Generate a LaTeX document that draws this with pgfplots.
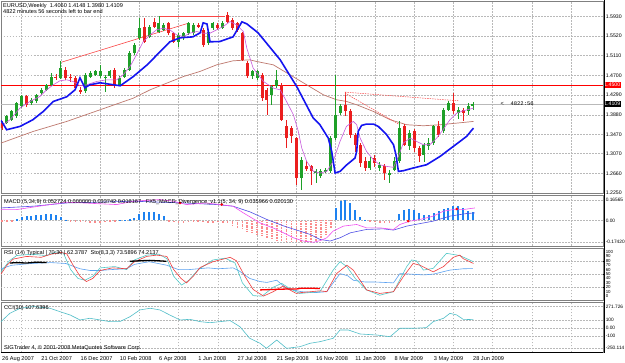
\documentclass[border=0pt]{standalone}
\usepackage{pgfplots}
\pgfplotsset{compat=1.18}
\usepackage{pgfplotstable}
\usepackage{fontspec}
\setmainfont{Liberation Sans}
\newfontfamily\monof{Liberation Mono}
\newcommand\tf{\fontsize{5.6}{6.3}\selectfont}
\newcommand\lf{\fontsize{5.2}{6}\selectfont}
\newcommand\smallf{\fontsize{4.4}{5}\selectfont}
\definecolor{cgreen}{RGB}{30,160,40}
\definecolor{cred}{RGB}{235,30,30}
\definecolor{mablue}{RGB}{20,20,240}
\definecolor{mamag}{RGB}{200,90,220}
\definecolor{mabrown}{RGB}{190,120,110}
\definecolor{trend}{RGB}{250,70,70}
\definecolor{histblue}{RGB}{30,130,240}
\definecolor{histpink}{RGB}{250,140,140}
\definecolor{gridc}{RGB}{185,185,185}
\definecolor{sepc}{RGB}{128,128,128}
\definecolor{rsiblue}{RGB}{90,160,240}
\definecolor{stored}{RGB}{240,60,60}
\definecolor{stocyan}{RGB}{80,200,200}
\definecolor{ccic}{RGB}{80,190,200}
\definecolor{macdmag}{RGB}{240,80,240}
\definecolor{macdblue}{RGB}{80,80,230}

\pgfplotstableread{
i o h l c
1 1.3706 1.3870 1.3680 1.3845
2 1.3776 1.3980 1.3750 1.3949
3 1.3845 1.4150 1.3820 1.4123
4 1.4053 1.4300 1.4030 1.4261
6 1.4123 1.4230 1.4090 1.4192
7 1.4157 1.4320 1.4120 1.4296
8 1.4331 1.4430 1.4300 1.4400
9 1.4400 1.4530 1.4380 1.4504
10 1.4504 1.4750 1.4480 1.4677
12 1.4643 1.4990 1.4620 1.4851
17 1.4365 1.4740 1.4330 1.4712
18 1.4677 1.4790 1.4640 1.4747
19 1.4712 1.4820 1.4680 1.4782
20 1.4677 1.4920 1.4650 1.4782
21 1.4643 1.4710 1.4360 1.4677
22 1.4677 1.4820 1.4640 1.4782
24 1.4504 1.4680 1.4480 1.4643
25 1.4677 1.4850 1.4650 1.4816
26 1.4816 1.5200 1.4790 1.5163
27 1.5163 1.5380 1.5130 1.5337
28 1.5475 1.5892 1.5440 1.5683
30 1.5510 1.5760 1.5480 1.5718
32 1.5614 1.5940 1.5590 1.5787
33 1.5649 1.5800 1.5620 1.5753
36 1.5406 1.5580 1.5300 1.5545
37 1.5475 1.5610 1.5440 1.5579
38 1.5579 1.5820 1.5540 1.5787
39 1.5579 1.5790 1.5550 1.5753
42 1.5370 1.5650 1.5340 1.5614
43 1.5683 1.5820 1.5650 1.5787
45 1.5683 1.5830 1.5660 1.5787
51 1.4677 1.4820 1.4620 1.4782
52 1.4643 1.4810 1.4600 1.4782
55 1.4296 1.4500 1.4088 1.4469
56 1.4469 1.4816 1.4430 1.4608
61 1.2562 1.3000 1.2319 1.2943
64 1.2666 1.2740 1.2450 1.2700
65 1.2597 1.2740 1.2560 1.2700
66 1.2700 1.2770 1.2670 1.2735
67 1.2700 1.3430 1.2670 1.3394
68 1.3394 1.4712 1.3360 1.3880
69 1.3914 1.4100 1.3880 1.4053
75 1.2770 1.3000 1.2720 1.2909
77 1.2770 1.2900 1.2700 1.2839
79 1.2631 1.2730 1.2457 1.2666
80 1.2735 1.3000 1.2700 1.2909
81 1.2909 1.3740 1.2880 1.3602
83 1.3221 1.3560 1.3150 1.3498
86 1.3047 1.3300 1.2900 1.3255
87 1.3221 1.3400 1.3150 1.3290
88 1.3290 1.3670 1.3250 1.3637
90 1.3533 1.4030 1.3500 1.3984
91 1.3984 1.4160 1.3950 1.4123
93 1.3914 1.4050 1.3800 1.3984
95 1.3949 1.4120 1.3880 1.4053
96 1.4060 1.4148 1.3980 1.4109
}\greentab

\pgfplotstableread{
i o h l c
0 1.3706 1.3740 1.3560 1.3602
5 1.4261 1.4290 1.4050 1.4088
11 1.4677 1.4720 1.4600 1.4643
13 1.4816 1.4880 1.4600 1.4643
14 1.4677 1.4720 1.4560 1.4643
15 1.4643 1.4680 1.4400 1.4435
16 1.4400 1.4450 1.4320 1.4365
23 1.4816 1.4850 1.4440 1.4469
29 1.5718 1.5892 1.5380 1.5406
31 1.5822 1.5892 1.5690 1.5718
34 1.5787 1.5820 1.5540 1.5579
35 1.5579 1.5610 1.5380 1.5406
40 1.5753 1.5790 1.5680 1.5718
41 1.5649 1.5690 1.5300 1.5337
44 1.5753 1.5790 1.5650 1.5683
46 1.5961 1.6030 1.5790 1.5822
47 1.5857 1.5890 1.5650 1.5683
48 1.5787 1.5820 1.5610 1.5649
49 1.5579 1.5610 1.4990 1.5024
50 1.4955 1.4990 1.4640 1.4677
53 1.4712 1.4750 1.4157 1.4227
54 1.4400 1.4430 1.3880 1.4192
57 1.4504 1.4540 1.3740 1.3776
58 1.3637 1.3776 1.3190 1.3394
59 1.3602 1.3650 1.3300 1.3429
60 1.3394 1.3420 1.2423 1.2562
62 1.2805 1.2909 1.2700 1.2760
63 1.2805 1.2840 1.2423 1.2700
70 1.4088 1.4296 1.3845 1.3949
71 1.3949 1.4000 1.3400 1.3464
72 1.3464 1.3500 1.3100 1.3255
73 1.3255 1.3300 1.2800 1.2870
74 1.2909 1.3000 1.2700 1.2770
76 1.2978 1.3050 1.2800 1.2874
78 1.2805 1.2850 1.2520 1.2666
82 1.3637 1.3680 1.3220 1.3255
84 1.3533 1.3580 1.3100 1.3186
85 1.3186 1.3220 1.2900 1.3013
89 1.3637 1.3740 1.3420 1.3464
92 1.4123 1.4331 1.3900 1.3949
94 1.3984 1.4020 1.3750 1.3914
}\redtab

\pgfplotstableread{
i v
3 0.011
4 0.027
5 0.038
6 0.038
7 0.043
8 0.046
9 0.051
10 0.054
11 0.048
12 0.027
13 0.008
24 0.004
25 0.006
26 0.010
27 0.022
28 0.056
29 0.070
30 0.072
31 0.070
32 0.056
33 0.034
68 0.100
69 0.155
70 0.166
71 0.140
72 0.083
73 0.030
74 0.008
81 0.056
82 0.083
83 0.093
84 0.083
85 0.061
86 0.048
87 0.048
88 0.061
89 0.075
90 0.093
91 0.101
92 0.115
93 0.120
94 0.100
95 0.075
96 0.067
}\histpos

\pgfplotstableread{
i v
0 -0.004
1 -0.003
2 -0.002
14 -0.003
15 -0.008
16 -0.012
17 -0.016
18 -0.020
19 -0.020
20 -0.018
21 -0.015
22 -0.012
23 -0.008
34 -0.008
35 -0.015
36 -0.020
37 -0.020
38 -0.015
39 -0.012
40 -0.010
41 -0.015
42 -0.020
43 -0.018
44 -0.015
45 -0.020
46 -0.025
47 -0.040
48 -0.055
49 -0.070
50 -0.085
51 -0.100
52 -0.110
53 -0.125
54 -0.140
55 -0.150
56 -0.160
57 -0.166
58 -0.172
59 -0.175
60 -0.178
61 -0.180
62 -0.180
63 -0.176
64 -0.165
65 -0.140
66 -0.110
67 -0.060
75 -0.010
76 -0.015
77 -0.020
78 -0.022
79 -0.020
80 -0.015
}\histneg

\pgfplotsset{
  panel/.style={
    scale only axis, width=602pt,
    xmin=-0.2, xmax=122.5,
    axis line style={draw=sepc, line width=0.9pt},
    xtick={4,12,...,116},
    xticklabels={},
    xmajorgrids, ymajorgrids,
    grid style={draw=gridc, dash pattern=on 1.5pt off 1.5pt, line width=0.45pt},
    ytick pos=right, yticklabel pos=right,
    xtick style={draw=none},
    ytick style={draw=black, line width=0.4pt},
    major tick length=2pt, tick align=outside,
    yticklabel style={font=\lf, anchor=west, inner sep=0.3pt, xshift=0.3pt},
    clip mode=individual,
    /pgf/number format/assume math mode=true,
  },
  ebar/.style={draw=none, mark=none, forget plot, error bars/.cd, y dir=both, y explicit, error mark=none,
    error bar style={#1}},
}

\begin{document}
\begin{tikzpicture}
\useasboundingbox (0,0) rectangle (625pt,-363pt);
\fill[white] (0,0) rectangle (625pt,-363pt);

% ---------------- main price panel
\begin{axis}[panel, at={(1pt,-1pt)}, anchor=north west, height=192pt,
  ymin=1.2250, ymax=1.6250,
  ytick={1.2250,1.2660,1.3070,1.3470,1.3880,1.4290,1.4700,1.5110,1.5520,1.5930},
  yticklabels={1.2250,1.2660,1.3070,1.3470,1.3880,1.4290,1.4700,1.5110,1.5520,1.5930}]
\addplot[gray!55, line width=0.5pt, forget plot] coordinates {(-0.2,1.4109) (122.5,1.4109)};
\addplot[red, line width=0.6pt, forget plot] coordinates {(-0.2,1.4500) (122.5,1.4500)};
% brown MA
\addplot[mabrown, line width=0.7pt] coordinates {
(-0.2,1.3290) (6.38,1.3533) (13.2,1.3741) (20.0,1.3984) (26.8,1.4227) (30.2,1.4400) (33.6,1.4539)
(37.0,1.4677) (40.35,1.4782) (43.75,1.4920) (47.1,1.5004) (50.5,1.5024) (51.9,1.4990) (55.3,1.4920)
(58.7,1.4712) (62.1,1.4504) (65.5,1.4296) (68.2,1.4192) (70.25,1.4157) (72.3,1.4088) (75.7,1.3949)
(79.1,1.3776) (82.5,1.3672) (85.9,1.3651) (89.3,1.3672) (92.7,1.3706) (96.1,1.3741)};
% trend lines
\addplot[trend, line width=0.6pt] coordinates {(12.16,1.4976) (37.97,1.5787)};
\addplot[trend, line width=0.6pt] coordinates {(32.2,1.5935) (45.5,1.5935)};
\addplot[trend, line width=0.5pt, dash pattern=on 1.5pt off 1pt] coordinates {(69.9,1.4351) (93.0,1.4171)};
\addplot[trend, line width=0.5pt, dash pattern=on 1.5pt off 1pt] coordinates {(69.9,1.4331) (81.1,1.3672)};
\addplot[trend, line width=0.5pt] coordinates {(69.9,1.4351) (69.9,1.4100)};
% candles: wicks and bodies
\addplot[ebar={draw=cgreen, line width=0.8pt}]
  table[x=i, y expr={(\thisrow{h}+\thisrow{l})/2}, y error expr={(\thisrow{h}-\thisrow{l})/2}] {\greentab};
\addplot[ebar={draw=cred, line width=0.8pt}]
  table[x=i, y expr={(\thisrow{h}+\thisrow{l})/2}, y error expr={(\thisrow{h}-\thisrow{l})/2}] {\redtab};
\addplot[ebar={draw=cgreen, line width=3pt}]
  table[x=i, y expr={(\thisrow{o}+\thisrow{c})/2}, y error expr={max(abs(\thisrow{c}-\thisrow{o})/2,0.0008)}] {\greentab};
\addplot[ebar={draw=cred, line width=3pt}]
  table[x=i, y expr={(\thisrow{o}+\thisrow{c})/2}, y error expr={max(abs(\thisrow{c}-\thisrow{o})/2,0.0008)}] {\redtab};
% magenta MA
\addplot[mamag, line width=0.6pt] coordinates {
(0.27,1.3672) (1.63,1.3776) (3.67,1.4019) (5.70,1.4157) (7.74,1.4261) (9.1,1.4400) (10.46,1.4504)
(11.8,1.4587) (13.2,1.4608) (14.5,1.4573) (15.9,1.4483) (17.25,1.4504) (19.3,1.4573) (21.3,1.4608)
(23.4,1.4608) (24.7,1.4712) (26.1,1.4886) (27.4,1.5128) (28.8,1.5406) (30.2,1.5545) (31.5,1.5649)
(32.9,1.5683) (34.2,1.5649) (35.6,1.5545) (37.0,1.5510) (38.3,1.5579) (39.7,1.5614) (41.0,1.5579)
(42.4,1.5579) (43.75,1.5649) (45.1,1.5718) (46.5,1.5822) (47.8,1.5753) (49.2,1.5614) (49.9,1.5267)
(51.2,1.4851) (53.3,1.4573) (55.3,1.4435) (56.7,1.4400) (58.0,1.4157) (59.4,1.3880) (60.4,1.3533)
(61.1,1.3186) (62.1,1.2909) (63.5,1.2700) (64.8,1.2666) (66.2,1.2700) (67.5,1.2909) (68.9,1.3325)
(70.2,1.3637) (71.6,1.3741) (72.3,1.3672) (73.0,1.3394) (74.3,1.3117) (75.7,1.2943) (77.0,1.2839)
(78.4,1.2805) (79.8,1.2784) (80.8,1.3013) (81.8,1.3290) (83.2,1.3394) (84.5,1.3325) (85.9,1.3255)
(87.2,1.3255) (88.6,1.3394) (89.9,1.3568) (91.3,1.3776) (92.7,1.3914) (94.0,1.3963) (95.4,1.3998)
(96.1,1.4019)};
% blue thick line
\addplot[mablue, line width=1.6pt] coordinates {
(-0.2,1.3760) (-0.07,1.3741) (0.95,1.3568) (3.67,1.3637) (6.3,1.3776) (8.42,1.3949) (10.46,1.4157)
(13.2,1.4255) (14.9,1.4400) (15.9,1.4650) (16.9,1.4442) (17.9,1.4504) (20.0,1.4546) (24.1,1.4484)
(26.7,1.4671) (29.6,1.4921) (32.2,1.5191) (34.2,1.5399) (36.3,1.5483) (38.9,1.5503) (40.4,1.5587)
(41.0,1.5795) (41.8,1.5770) (42.4,1.5400) (44.4,1.5406) (47.1,1.5503) (48.9,1.5816) (49.9,1.5774)
(52.2,1.5587) (56.7,1.5025) (60.1,1.4463) (63.4,1.3818) (64.8,1.3672) (66.5,1.3394) (67.2,1.3117)
(67.9,1.2666) (68.9,1.2700) (70.3,1.2839) (71.95,1.2978) (72.3,1.3117) (72.6,1.3533) (73.3,1.3658)
(74.3,1.3686) (75.7,1.3686) (76.7,1.3637) (78.4,1.3464) (79.8,1.3255) (80.3,1.3047) (80.8,1.2700)
(81.8,1.2714) (83.8,1.2770) (86.55,1.2839) (89.3,1.3013) (92.0,1.3221) (94.7,1.3429) (96.1,1.3602)};
% texts
\node[anchor=north west, font=\tf, inner sep=0pt, align=left] at ([xshift=2pt,yshift=-2pt]rel axis cs:0,1)
  {EURUSD,Weekly\ \ 1.4060 1.4148 1.3980 1.4109\\[-0.5pt]4822 minutes 56 seconds left to bar end};
\node[anchor=west, font=\monof\fontsize{5.5}{6}\selectfont, inner sep=0pt] at (axis cs:101.6,1.4109) {<\ \ 4822:56};
\node[anchor=west, fill=red, text=white, font=\lf, inner sep=0.6pt, minimum height=6.5pt] at ([xshift=0.5pt]axis cs:122.5,1.4500) {1.4500};
\node[anchor=west, fill=black, text=white, font=\lf, inner sep=0.6pt, minimum height=6.5pt] at ([xshift=0.5pt]axis cs:122.5,1.4109) {1.4109};
\end{axis}

% ---------------- MACD panel
\begin{axis}[panel, at={(1pt,-195pt)}, anchor=north west, height=51pt,
  ymin=-0.205, ymax=0.205,
  ytick={-0.1742,0,0.16565}, yticklabels={-0.17420,0.00,0.16565},
  yticklabel style={font=\fontsize{4.8}{5.5}\selectfont}]
\addplot[ebar={draw=histblue, line width=2pt}]
  table[x=i, y expr={\thisrow{v}/2}, y error expr={abs(\thisrow{v})/2}] {\histpos};
\addplot[ebar={draw=histpink, line width=1.6pt, dash pattern=on 0.8pt off 0.8pt}]
  table[x=i, y expr={\thisrow{v}/2}, y error expr={abs(\thisrow{v})/2}] {\histneg};
\addplot[macdblue, line width=0.6pt] coordinates {
(-0.2,0.101) (6.4,0.115) (13.2,0.141) (26.8,0.155) (37,0.141) (43.8,0.128) (47.1,0.115) (50.5,0.070)
(54,0.008) (57.5,-0.045) (60.7,-0.085) (62.8,-0.112) (64.8,-0.152) (66.9,-0.165) (68.9,-0.139)
(71.0,-0.099) (74.3,-0.072) (77.7,-0.067) (79.8,-0.077) (82.5,-0.045) (87.9,-0.005) (91.3,0.035)
(94.7,0.056) (96.4,0.061)};
\addplot[macdmag, line width=0.6pt] coordinates {
(-0.2,0.088) (3.0,0.088) (9.8,0.128) (13.2,0.147) (16.6,0.141) (23.4,0.128) (26.8,0.155) (32.2,0.168)
(34.9,0.155) (37.6,0.128) (41.7,0.141) (44.4,0.128) (47.1,0.115) (49.2,0.061) (52.6,-0.019) (56,-0.072)
(59.4,-0.139) (61.4,-0.165) (63.5,-0.175) (65,-0.160) (66.2,-0.139) (67.5,-0.085) (69.6,-0.045)
(72.3,-0.032) (74.3,-0.059) (77.0,-0.059) (79.8,-0.072) (81.1,-0.032) (83.2,-0.005) (85.2,0.008)
(87.9,0.035) (90.0,0.075) (92.0,0.088) (94.0,0.088) (96.4,0.101)};
\addplot[only marks, mark=*, mark size=1.1pt, red] coordinates {(36.3,0.141) (44.8,0.128) (82.8,-0.005) (92.7,0.093)};
\node[anchor=north west, font=\tf, inner sep=0pt] at ([xshift=3pt,yshift=-4pt]rel axis cs:0,1)
  {MACD (5,34,9) 0.052724 0.000000 0.033742 0.016167\ \ \ FX5\_MACD\_Divergence\_v1.1(5, 34, 9) 0.035966 0.020130};
\end{axis}

% ---------------- RSI / Stochastic panel
\begin{axis}[panel, at={(1pt,-248.5pt)}, anchor=north west, height=52pt,
  ymin=-10, ymax=108, ytick={0,10,...,100},
  yticklabel style={font=\smallf},
  ymajorgrids=false,
  extra y ticks={20,50,80}, extra y tick labels={},
  extra y tick style={grid=major, tick style={draw=none}}]
\addplot[rsiblue, line width=0.6pt] coordinates {
(-0.2,62) (2,70) (6,74) (10,76) (13,74) (15.9,62) (18,58) (20,58) (22,60) (25.4,62) (27,72) (30,78)
(33.6,70) (36,60) (38,60) (40,62) (42,64) (44,62) (47.1,64) (48.5,56) (50.5,40) (52.6,33) (54,31)
(56,36) (58,17) (61,10) (64,8) (66.2,10) (67.5,30) (68.9,51) (70.5,46) (71.6,36) (74,32) (76,32)
(79.8,30) (81.1,51) (83,50) (86,48) (88,50) (91.3,59) (94,62) (96,62.4)};
\addplot[stocyan, line width=0.6pt] coordinates {
(-0.2,55) (1.5,80) (3,92) (6,95) (9,92) (11,100) (12.5,98) (14,60) (15.5,40) (16.9,36) (18.5,45)
(20,64) (23,67) (25.4,60) (27,82) (29.5,93) (32,95) (33.6,85) (35,45) (36.6,25) (38,35) (40,60)
(43,82) (45.5,86) (47.5,75) (49,30) (51.2,1) (53,0) (55.3,20) (57,29) (58.5,18) (60.7,6) (64.8,10)
(67.5,59) (68.9,78) (70.3,67) (72,40) (74.3,14) (77.0,2) (79.8,10) (82.5,67) (83.5,82) (84.5,80)
(85.9,59) (87.9,63) (90.6,97) (93.3,92) (96.1,78)};
\addplot[stored, line width=0.6pt] coordinates {
(-0.2,50) (1,70) (2.3,84) (5,90) (8,88) (10,95) (12,99) (13.2,96) (14.5,70) (15.9,45) (17.2,33)
(18.5,40) (20,58) (22.5,64) (25.4,62) (27,78) (29.5,90) (31.5,93) (33.6,90) (35,60) (36.5,40)
(37.6,30) (39,45) (40.4,65) (43,78) (46.5,88) (47.8,80) (49.5,45) (51.2,15) (53.3,0) (55.3,10)
(57.3,23) (58.5,15) (60,6) (61,8) (63,10) (64.8,12) (66.2,10) (68.2,51) (70.3,70) (71.6,59)
(74.3,14) (77.0,6) (79.8,10) (81.8,44) (83.8,74) (85.2,70) (87.9,55) (90.0,67) (92.0,88) (93.3,93)
(94.0,85) (96.1,74)};
\addplot[black, line width=1.3pt] coordinates {(1.6,75) (3,76) (5,75) (7,77) (9.1,76)};
\addplot[black, line width=1.3pt] coordinates {(26,79) (28,80) (30,81) (32,80) (33.5,79)};
\addplot[red, line width=1.3pt] coordinates {(52.6,14) (55,15) (58,16) (60,16) (61,18) (63,18) (64.8,17)};
\node[anchor=north west, font=\tf, inner sep=0pt] at ([xshift=3pt,yshift=-2pt]rel axis cs:0,1)
  {RSI (14) Typical | 70;30 | 62.3787\ \ Sto(8,3,3) 73.5896 74.2137};
\end{axis}

% ---------------- CCI panel
\begin{axis}[panel, at={(1pt,-302.5pt)}, anchor=north west, height=50pt,
  ymin=-302, ymax=322,
  ytick={-250.114,-100,0,100,271.726}, yticklabels={-250.114,-100,0.00,100,271.726},
  yticklabel style={font=\fontsize{4.8}{5.5}\selectfont},
  extra x ticks={0,8,...,96},
  extra x tick labels={26 Aug 2007,21 Oct 2007,16 Dec 2007,10 Feb 2008,6 Apr 2008,1 Jun 2008,27 Jul 2008,21 Sep 2008,16 Nov 2008,11 Jan 2009,8 Mar 2009,3 May 2009,28 Jun 2009},
  extra x tick style={grid=none, tick style={draw=black, line width=0.4pt}, major tick length=2pt,
    xticklabel style={font=\tf, anchor=north west, inner sep=0pt, yshift=-2pt, xshift=0pt}}]
\addplot[ccic, line width=0.6pt] coordinates {
(-0.2,83) (1.6,187) (3.7,250) (6.4,271) (9.8,250) (11.8,208) (13.9,166) (15.9,104) (17.9,125)
(20.0,104) (22.0,83) (24.0,83) (26.1,145) (28.1,229) (30.2,250) (32.2,229) (34.2,166) (36.3,104)
(38.3,112) (40.4,83) (42.4,70) (44.4,83) (46.5,96) (48.5,20) (50.5,-125) (52.6,-187) (53.9,-250)
(56.0,-146) (58.0,-250) (60.7,-230) (62.8,-187) (64.8,-167) (67.5,-125) (68.9,-21) (70.6,-21)
(73.0,-71) (76.4,-84) (79.1,-105) (81.1,0) (83.8,0) (86.5,8) (87.9,83) (90.0,125) (91.3,187)
(92.7,166) (94.0,112) (96.1,108)};
\node[anchor=north west, font=\tf, inner sep=0pt] at ([xshift=3pt,yshift=-3pt]rel axis cs:0,1) {CCI(30) 107.6396};
\node[anchor=south west, font=\tf, inner sep=0pt] at ([xshift=3pt,yshift=2pt]rel axis cs:0,0) {SIGTrader 4, © 2001-2008 MetaQuotes Software Corp.};
\draw[black, line width=0.6pt] (rel axis cs:0,0) -- (rel axis cs:1,0);
\end{axis}
\draw[black, line width=0.6pt] (604pt,0pt) -- (604pt,-353pt);
\end{tikzpicture}
\end{document}
